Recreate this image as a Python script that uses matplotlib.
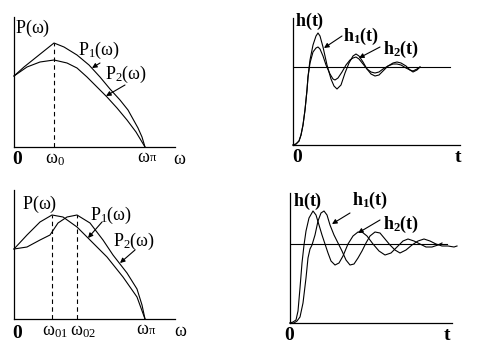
import matplotlib
matplotlib.use("Agg")
import matplotlib.pyplot as plt

plt.rcParams["font.family"] = ["Liberation Serif", "DejaVu Serif"]
plt.rcParams["mathtext.fontset"] = "custom"
plt.rcParams["mathtext.rm"] = "Liberation Serif"
plt.rcParams["mathtext.it"] = "Liberation Serif:italic"
plt.rcParams["mathtext.bf"] = "Liberation Serif:bold"

# --- top left: P(w), single peak at w0 ---
tl_p1_w = [0, 10, 20, 30, 40, 50, 63, 75, 86, 96, 106, 114, 119, 124, 128, 131]
tl_p1_v = [71, 80, 88, 96, 104, 100, 92, 82, 70, 58, 47, 37, 28, 19, 10, 0]
tl_p2_w = [0, 13, 26, 40, 53, 63, 73, 83, 93, 103, 113, 122, 131]
tl_p2_v = [71, 80, 85, 87, 84, 79, 70, 60, 50, 39, 27, 15, 0]
tl_w0 = 40
tl_peak = 104

# --- top right: h(t), same frequency ---
tr_h1_t = [0, 3, 6, 8, 10, 12, 14, 15, 17, 20, 23, 25, 27, 30, 34, 38, 41, 44, 48, 52, 56,
           60, 63, 66, 70, 74, 78, 82, 86, 90, 95, 100, 104, 108, 113, 117, 120, 124, 127]
tr_h1_v = [0, 1, 4, 10, 20, 35, 55, 68, 85, 100, 109, 112, 109, 98, 80, 66, 59, 56, 60, 72, 82,
           89, 91, 89, 83, 76, 71, 69, 70, 74, 79, 82, 83, 82, 79, 75, 73, 75, 78]
tr_h2_t = [0, 3, 6, 8, 10, 12, 14, 15, 17, 20, 23, 25, 27, 30, 33, 37, 40, 42, 45, 49, 53,
           57, 60, 63, 66, 70, 74, 78, 82, 86, 90, 95, 100, 104, 108, 113, 117, 120, 124, 127]
tr_h2_v = [0, 1, 4, 10, 20, 35, 55, 68, 82, 93, 97, 98, 96, 89, 80, 71, 66, 65, 67, 73, 80,
           85, 87, 88, 86, 81, 76, 73, 72, 73, 76, 79, 81, 81, 80, 77, 75, 74, 76, 78]
tr_final = 78
tr_final_end = 157

# --- bottom left: P(w), peaks at w01 and w02 ---
bl_p1_w = [0, 13, 26, 38, 49, 63, 76, 93, 109, 123, 131]
bl_p1_v = [70, 84, 97, 104, 102, 92, 79, 62, 42, 22, 0]
bl_p2_w = [0, 13, 26, 36, 44, 53, 63, 76, 89, 99, 113, 123, 128, 131]
bl_p2_v = [70, 72, 79, 84, 96, 102, 104, 96, 79, 64, 46, 30, 14, 0]
bl_w01 = 38
bl_w02 = 63
bl_peak = 104

# --- bottom right: h(t), different frequencies ---
br_a_t = [0, 3, 6, 8, 10, 12, 14, 16, 19, 23, 26, 29, 32, 35, 38, 41, 45, 49, 53, 58, 63, 68,
          72, 77, 83, 89, 95, 101, 107, 113, 118, 124, 130, 136, 142, 148, 152]
br_a_v = [0, 1, 3, 12, 35, 60, 78, 92, 105, 112, 108, 98, 88, 79, 70, 62, 58, 60, 67, 79, 87, 91,
          91, 87, 79, 72, 68, 70, 76, 82, 84, 82, 79, 76, 76, 78, 80]
br_b_t = [0, 4, 7, 10, 13, 16, 18, 20, 22, 25, 28, 31, 34, 37, 40, 44, 48, 52, 56, 60, 64, 68,
          72, 76, 80, 85, 90, 95, 100, 105, 110, 116, 122, 128, 134, 140, 146, 152, 158, 164, 167]
br_b_v = [0, 0, 2, 6, 20, 45, 65, 74, 78, 88, 102, 110, 112, 108, 98, 88, 80, 72, 63, 58, 59, 65,
          72, 80, 87, 91, 90, 84, 78, 73, 70, 73, 78, 82, 84, 82, 79, 77, 77, 76, 77]
br_final = 79
br_final_end = 157

W, H = 487, 362
fig = plt.figure(figsize=(W / 100, H / 100), dpi=100)


def px_axes(left, right, bottom, top):
    ax = fig.add_axes([left / W, 1 - bottom / H, (right - left) / W, (bottom - top) / H])
    ax.set_xlim(0, right - left)
    ax.set_ylim(0, bottom - top)
    for s in ["top", "right"]:
        ax.spines[s].set_visible(False)
    for s in ["left", "bottom"]:
        ax.spines[s].set_linewidth(0.9)
    ax.set_xticks([])
    ax.set_yticks([])
    ax.patch.set_alpha(0)
    return ax


line_kw = dict(color="black", lw=0.8, clip_on=False)
dash_kw = dict(color="black", lw=0.8, linestyle=(0, (4, 3)))
arrow_kw = dict(arrowstyle="-|>", color="black", lw=0.8, mutation_scale=7, shrinkA=0, shrinkB=0)


def label(ax, x, y, s, size=12, ha="left"):
    ax.text(x, y, s, fontsize=size, ha=ha, va="center", clip_on=False)


def pointer(ax, start, tip):
    ax.annotate("", xy=tip, xytext=start, arrowprops=arrow_kw, annotation_clip=False)


def omega_pi(ax, x, y):
    # wide omega followed by a small pi on the baseline
    label(ax, x, y, "ω", 13)
    ax.text(x + 13, y - 4, "π", fontsize=9, ha="left", va="baseline", clip_on=False)


# top left
ax = px_axes(14, 175, 147, 17)
ax.plot(tl_p1_w, tl_p1_v, **line_kw)
ax.plot(tl_p2_w, tl_p2_v, **line_kw)
ax.plot([tl_w0, tl_w0], [0, tl_peak], **dash_kw)
label(ax, 1, 119, r"$\mathrm{P(ω)}$", 13)
label(ax, 64, 97, r"$\mathrm{P_1(ω)}$", 13)
label(ax, 91, 73, r"$\mathrm{P_2(ω)}$", 13)
pointer(ax, (86, 84), (78, 79))
pointer(ax, (111, 62), (92, 51))
label(ax, 4, -13, r"$\mathbf{0}$", 14, "center")
label(ax, 31, -12, r"$\mathrm{ω_0}$", 13)
omega_pi(ax, 123, -10)
label(ax, 165, -13, "ω", 13, "center")

# top right
ax = px_axes(293, 460, 145, 18)
ax.plot(tr_h1_t, tr_h1_v, **line_kw)
ax.plot(tr_h2_t, tr_h2_v, **line_kw)
ax.plot([0, tr_final_end], [tr_final, tr_final], color="black", lw=0.8)
label(ax, 2, 124, r"$\mathbf{h(t)}$", 13)
label(ax, 50, 109, r"$\mathbf{h_1(t)}$", 13)
label(ax, 90, 96, r"$\mathbf{h_2(t)}$", 13)
pointer(ax, (49, 109), (31, 97))
pointer(ax, (87, 98), (66, 87))
label(ax, 5, -13, r"$\mathbf{0}$", 14, "center")
label(ax, 165, -13, r"$\mathbf{t}$", 14, "center")

# bottom left
ax = px_axes(14, 175, 319, 190)
ax.plot(bl_p1_w, bl_p1_v, **line_kw)
ax.plot(bl_p2_w, bl_p2_v, **line_kw)
ax.plot([bl_w01, bl_w01], [0, bl_peak], **dash_kw)
ax.plot([bl_w02, bl_w02], [0, bl_peak], **dash_kw)
label(ax, 8, 115, r"$\mathrm{P(ω)}$", 13)
label(ax, 76, 104, r"$\mathrm{P_1(ω)}$", 13)
label(ax, 99, 78, r"$\mathrm{P_2(ω)}$", 13)
pointer(ax, (88, 97), (74, 81))
pointer(ax, (121, 69), (106, 56))
label(ax, 4, -14, r"$\mathbf{0}$", 14, "center")
label(ax, 28, -13, r"$\mathrm{ω_{01}}$", 13)
label(ax, 56, -13, r"$\mathrm{ω_{02}}$", 13)
omega_pi(ax, 122, -11)
label(ax, 166, -13, "ω", 13, "center")

# bottom right
ax = px_axes(290, 452, 323, 193)
ax.plot(br_a_t, br_a_v, **line_kw)
ax.plot(br_b_t, br_b_v, **line_kw)
ax.plot([0, br_final_end], [br_final, br_final], color="black", lw=0.8)
label(ax, 3, 122, r"$\mathbf{h(t)}$", 13)
label(ax, 62, 123, r"$\mathbf{h_1(t)}$", 13)
label(ax, 93, 99, r"$\mathbf{h_2(t)}$", 13)
pointer(ax, (60, 110), (42, 99))
pointer(ax, (90, 103), (68, 90))
label(ax, 0, -12, r"$\mathbf{0}$", 14, "center")
label(ax, 157, -12, r"$\mathbf{t}$", 14, "center")

plt.savefig("out.png", dpi=100)
plt.close()
